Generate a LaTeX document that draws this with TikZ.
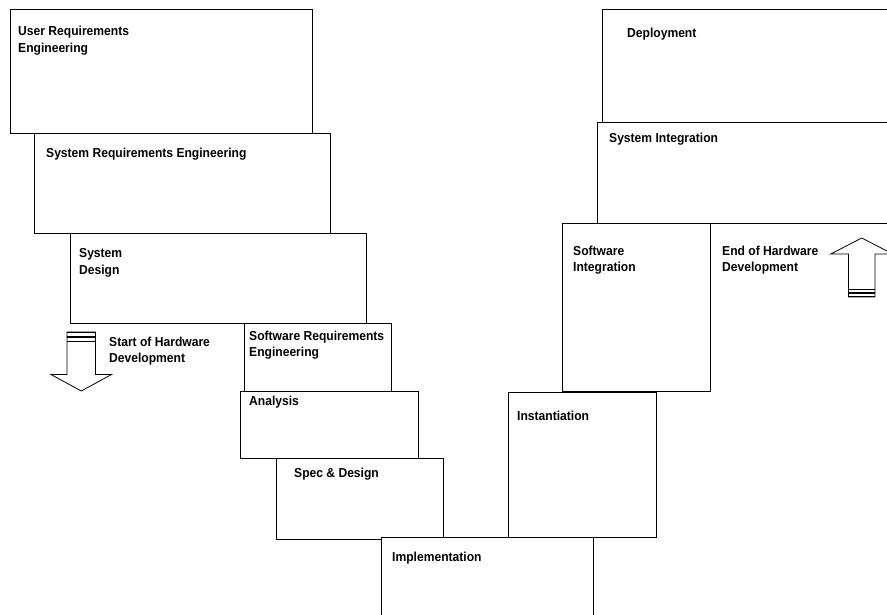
\documentclass[tikz,border=0pt]{standalone}
\usepackage{fontspec}
\setmainfont{Liberation Sans}[FakeStretch=0.93]
\begin{document}
\begin{tikzpicture}[x=1pt,y=-1pt,
  phase/.style={draw=black,line width=0.8pt,fill=white,rectangle,anchor=north west,inner sep=0pt},
  lbl/.style={anchor=north west,inner sep=0pt,align=left,
    font=\fontsize{13}{16.8}\selectfont\bfseries},
  hwarrow/.style={draw=black,line width=0.8pt,fill=white,line join=miter},
  hwbar/.style={draw=black,line width=1.3pt}]
\useasboundingbox (0,0) rectangle (887,615);
\clip (0,0) rectangle (887,615);

% left leg of the V
\node[phase,minimum width=302pt,minimum height=124pt] (ure) at (10,9) {};
\node[phase,minimum width=296pt,minimum height=100pt] (sre) at (34,133) {};
\node[phase,minimum width=296pt,minimum height=90pt] (sd) at (70,233) {};
\node[phase,minimum width=147pt,minimum height=68pt] (swre) at (244,323) {};
\node[phase,minimum width=178pt,minimum height=67pt] (ana) at (240,391) {};
\node[phase,minimum width=167pt,minimum height=81pt] (spec) at (276,458) {};

% right leg of the V
\node[phase,minimum width=300pt,minimum height=113pt] (depl) at (602,9) {};
\node[phase,minimum width=300pt,minimum height=101pt] (sysint) at (597,122) {};
\node[phase,minimum width=148pt,minimum height=168pt] (swint) at (562,223) {};
\node[phase,minimum width=148pt,minimum height=145pt] (inst) at (508,392) {};

% bottom of the V
\node[phase,minimum width=212pt,minimum height=95pt] (impl) at (381,537) {};

% phase labels
\node[lbl] (ureT) at (18,26) {User Requirements\\Engineering};
\node[lbl] (sreT) at (46,147.5) {System Requirements Engineering};
\node[lbl] (sdT) at (79,248) {System\\Design};
\node[lbl] (swreT) at (249,330.5) {Software Requirements\\Engineering};
\node[lbl] (anaT) at (249,396) {Analysis};
\node[lbl] (specT) at (294,468) {Spec \& Design};
\node[lbl] (implT) at (392,551.5) {Implementation};
\node[lbl] (instT) at (517,411) {Instantiation};
\node[lbl] (swintT) at (573,245.5) {Software\\Integration};
\node[lbl] (sysintT) at (609,133) {System Integration};
\node[lbl] (deplT) at (627,28) {Deployment};

% hardware milestones
\node[lbl] (hwStart) at (109,336.5) {Start of Hardware\\Development};
\node[lbl] (hwEnd) at (722,245.5) {End of Hardware\\Development};

% downward block arrow: start of hardware development
\draw[hwarrow] (67,332) -- (95.5,332) -- (95.5,374.5) -- (111.5,374.5)
  -- (81.25,391) -- (51,374.5) -- (67,374.5) -- cycle;
\draw[hwbar] (67,332.5) -- (95.5,332.5);
\draw[hwbar] (67,337) -- (95.5,337);
\draw[line width=0.8pt] (67,341) -- (95.5,341);

% upward block arrow: end of hardware development
\draw[hwarrow] (848.5,297) -- (875,297) -- (875,254) -- (892.75,254)
  -- (861.75,238) -- (830.75,254) -- (848.5,254) -- cycle;
\draw[line width=0.8pt] (848.5,289.5) -- (875,289.5);
\draw[hwbar] (848.5,293) -- (875,293);
\draw[hwbar] (848.5,296.5) -- (875,296.5);
\end{tikzpicture}
\end{document}
